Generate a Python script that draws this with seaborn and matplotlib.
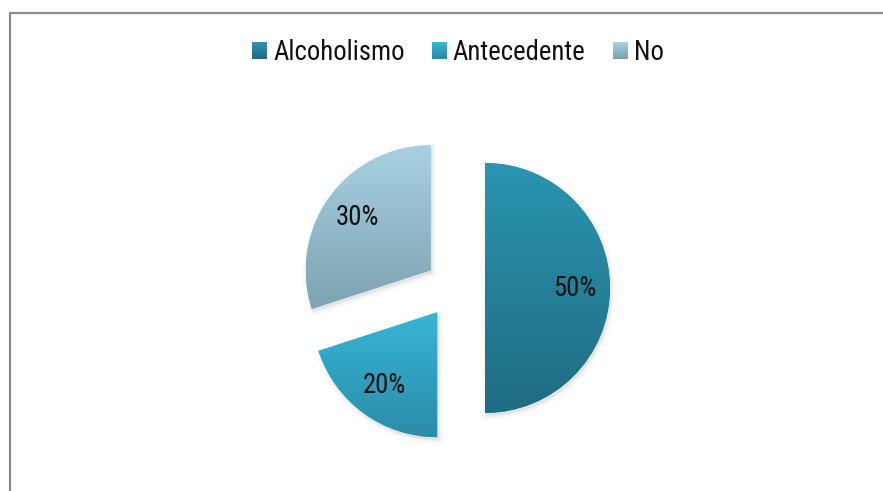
import numpy as np
import matplotlib
matplotlib.use("Agg")
import matplotlib.pyplot as plt
import seaborn as sns
from matplotlib import font_manager
from matplotlib.font_manager import FontProperties
from matplotlib.textpath import TextPath
from matplotlib.patches import Patch, Rectangle, Wedge
from matplotlib.lines import Line2D
from matplotlib.colors import to_rgb, LinearSegmentedColormap
from matplotlib.legend_handler import HandlerBase

# Data
categories = ["Alcoholismo", "Antecedente", "No"]
shares = [50, 20, 30]
top_colors = ["#2b95b1", "#38b5d7", "#a7d1e1"]
bottom_colors = ["#1f6c81", "#2a8ca8", "#7ea2b2"]

sns.set_theme(style="white")
plt.rcParams["font.family"] = ["Liberation Sans", "DejaVu Sans"]

W, H = 883, 491
R_PX = 125.0           # pie radius in pixels
CX, CY = 455.0, 288.0  # pie centre in pixels (from top-left)
TEXT_W, CAP_H = 130.0, 19.0  # target span of "Alcoholismo" and cap height, px


def metrics(fp):
    w = TextPath((0, 0), "Alcoholismo", prop=fp, size=100).get_extents().width
    c = TextPath((0, 0), "H", prop=fp, size=100).get_extents().height
    return w, c


def pick_font():
    """Choose the regular sans face whose proportions suit a narrow label style."""
    wanted = ("liberation", "noto sans", "roboto", "open sans", "lato", "inter", "dejavu sans")
    best, best_err = None, None
    seen = set()
    for f in font_manager.fontManager.ttflist:
        name = f.name.lower()
        path = str(f.fname).lower()
        if not any(name.startswith(k) for k in wanted):
            continue
        if "cjk" in name or "mono" in name or "serif" in name and "sans" not in name:
            continue
        if f.style != "normal" or f.weight not in (400, "normal", "regular"):
            continue
        if any(s in path for s in ("bold", "italic", "light", "thin", "medium", "black", "semi")):
            continue
        if f.fname in seen:
            continue
        seen.add(f.fname)
        fp = FontProperties(fname=f.fname)
        try:
            w, c = metrics(fp)
        except Exception:
            continue
        if c <= 0:
            continue
        err = abs(w / c - TEXT_W / CAP_H)
        if best_err is None or err < best_err:
            best, best_err = fp, err
    return best or FontProperties(family=["Liberation Sans", "DejaVu Sans"])


fp = pick_font()
w100, c100 = metrics(fp)
size_w = 100 * TEXT_W / w100 * 72 / 100
size_c = 100 * CAP_H / c100 * 72 / 100
fsize = float(size_w ** 0.35 * size_c ** 0.65)
fp.set_size(fsize)

fig = plt.figure(figsize=(W / 100, H / 100), dpi=100)
fig.patch.set_facecolor("white")
ax = fig.add_axes([0, 0, 1, 1])

wedges, texts, autotexts = ax.pie(
    shares,
    explode=[0.24] * len(shares),
    startangle=90,
    counterclock=False,
    autopct="%1.0f%%",
    pctdistance=0.72,
    radius=1.0,
    colors=top_colors,
    wedgeprops=dict(linewidth=0, edgecolor="none"),
    textprops=dict(color="#111111"),
)
for t in autotexts:
    t.set_fontproperties(fp)
    t.set_zorder(5)

# soft drop shadow under each slice
for w in wedges:
    cx, cy = w.center
    for lw, a in [(7, 0.025), (4, 0.035), (2, 0.05)]:
        sh = Wedge((cx + 0.012, cy - 0.02), w.r, w.theta1, w.theta2,
                   facecolor="#7a7a7a", edgecolor="#7a7a7a", linewidth=lw,
                   alpha=a, zorder=0.5)
        ax.add_patch(sh)

# vertical gradient fill clipped to each slice
grad = np.linspace(0, 1, 256).reshape(-1, 1)
for w, ct, cb in zip(wedges, top_colors, bottom_colors):
    w.set_zorder(1)
    ext = w.get_path().get_extents()
    cmap = LinearSegmentedColormap.from_list("g", [ct, cb])
    im = ax.imshow(grad, cmap=cmap, extent=[ext.x0, ext.x1, ext.y0, ext.y1],
                   origin="upper", aspect="auto", zorder=2, interpolation="bilinear")
    im.set_clip_path(w)

ax.set_xlim(-CX / R_PX, (W - CX) / R_PX)
ax.set_ylim(-(H - CY) / R_PX, CY / R_PX)
ax.set_aspect("auto")
ax.axis("off")


class GradientSwatch(HandlerBase):
    def __init__(self, c_top, c_bot, n=14):
        super().__init__()
        self.c_top = np.array(to_rgb(c_top))
        self.c_bot = np.array(to_rgb(c_bot))
        self.n = n

    def create_artists(self, legend, orig_handle, xdescent, ydescent,
                       width, height, fontsize, trans):
        arts = []
        for i in range(self.n):
            f = i / (self.n - 1)
            c = self.c_top * (1 - f) + self.c_bot * f
            y = -ydescent + height * (1 - (i + 1) / self.n)
            arts.append(Rectangle((-xdescent, y), width, height / self.n * 1.05,
                                  facecolor=c, edgecolor="none", transform=trans))
        return arts


handles = [Patch(facecolor=ct, label=lab) for ct, lab in zip(top_colors, categories)]
hmap = {h: GradientSwatch(ct, cb) for h, ct, cb in zip(handles, top_colors, bottom_colors)}
em = fsize * 100 / 72.0  # font size in pixels
fig.legend(
    handles=handles,
    labels=categories,
    handler_map=hmap,
    loc="center",
    bbox_to_anchor=(458 / W, 1 - 52 / H),
    ncol=3,
    frameon=False,
    prop=fp,
    handlelength=15.0 / em,
    handleheight=16.0 / em,
    handletextpad=6.0 / em,
    columnspacing=27.0 / em,
    labelcolor="#111111",
)

# chart area border (left and top edges)
bx = 10 / W
by = 1 - 12.5 / H
fig.add_artist(Line2D([bx, bx, 1.0], [0.0, by, by], transform=fig.transFigure,
                      color="#8a8a8a", linewidth=1.6))

fig.savefig("out.png", dpi=100, facecolor="white")
